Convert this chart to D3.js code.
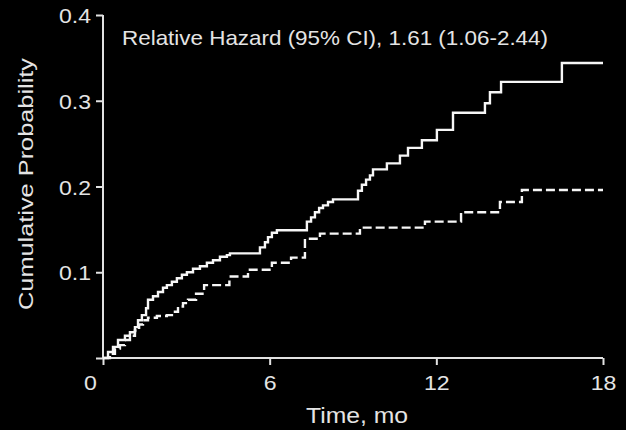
<!DOCTYPE html>
<html>
<head>
<meta charset="utf-8">
<script src="https://cdn.jsdelivr.net/npm/d3@7/dist/d3.min.js"></script>
<style>
  html, body { margin: 0; padding: 0; background: #000; }
  svg { display: block; }
  text { font-family: "Liberation Sans", Arial, Helvetica, sans-serif; fill: #e4e4e4; }
</style>
</head>
<body>
<svg id="chart" width="626" height="430"></svg>
<script>
// Cumulative probability over follow-up, two groups (step functions)
const solidTimes = [0, 0.18, 0.36, 0.54, 0.79, 0.97, 1.15, 1.26, 1.40, 1.55, 1.62, 1.80, 1.98, 2.16, 2.30, 2.48, 2.66, 2.84, 3.02, 3.24, 3.49, 3.74, 3.96, 4.21, 4.46, 4.57, 5.65, 5.83, 5.94, 6.08, 6.26, 7.34, 7.49, 7.63, 7.78, 7.92, 8.10, 8.28, 9.18, 9.32, 9.47, 9.61, 9.72, 10.22, 10.69, 10.98, 11.48, 12.02, 12.60, 13.75, 13.93, 14.33, 16.52, 18];
const solidValues = [0, 0.007, 0.013, 0.021, 0.026, 0.030, 0.036, 0.044, 0.050, 0.058, 0.068, 0.072, 0.077, 0.082, 0.085, 0.089, 0.093, 0.097, 0.100, 0.104, 0.107, 0.111, 0.114, 0.118, 0.120, 0.122, 0.129, 0.135, 0.141, 0.146, 0.149, 0.159, 0.164, 0.170, 0.175, 0.178, 0.182, 0.185, 0.195, 0.202, 0.208, 0.213, 0.220, 0.227, 0.236, 0.245, 0.254, 0.266, 0.286, 0.297, 0.310, 0.322, 0.344, 0.344];

const dashedTimes = [0, 0.25, 0.43, 0.61, 0.79, 0.97, 1.15, 1.30, 1.44, 1.62, 1.94, 2.30, 2.59, 2.70, 2.88, 3.06, 3.35, 3.64, 4.55, 5.22, 6.08, 6.77, 7.27, 7.81, 9.25, 11.59, 12.89, 14.29, 15.08, 18];
const dashedValues = [0, 0.005, 0.011, 0.015, 0.021, 0.026, 0.032, 0.039, 0.044, 0.047, 0.049, 0.050, 0.054, 0.060, 0.064, 0.068, 0.075, 0.085, 0.095, 0.103, 0.111, 0.117, 0.139, 0.145, 0.152, 0.159, 0.170, 0.182, 0.196, 0.196];

const xTicks = [0, 6, 12, 18];
const xTickLabels = ["0", "6", "12", "18"];
const yTicks = [0, 0.1, 0.2, 0.3, 0.4];
const yTickLabels = ["", "0.1", "0.2", "0.3", "0.4"];

const xTitle = "Time, mo";
const yTitle = "Cumulative Probability";
const note = "Relative Hazard (95% CI), 1.61 (1.06-2.44)";

const svg = d3.select("#chart");
const W = 626, H = 430;
svg.append("rect").attr("width", W).attr("height", H).attr("fill", "#000");

const x = d3.scaleLinear().domain([0, 18]).range([103, 603]);
const y = d3.scaleLinear().domain([0, 0.4]).range([358, 15]);

const axisColor = "#e2e2e2";
const lineColor = "#f6f6f6";
const fontSize = 21;

// y axis
const yAxis = svg.append("g")
  .attr("transform", `translate(${x(0)},0)`)
  .call(d3.axisLeft(y).tickValues(yTicks).tickSize(7).tickPadding(5)
    .tickFormat((d, i) => yTickLabels[i]));
yAxis.select(".domain").attr("stroke", axisColor).attr("stroke-width", 2)
  .attr("d", `M0,${y(0)}V${y(0.4)}`);
yAxis.selectAll(".tick line").attr("stroke", axisColor).attr("stroke-width", 2);
yAxis.selectAll(".tick text")
  .attr("font-size", fontSize).attr("font-family", null).attr("fill", "#e4e4e4")
  .attr("x", -12).attr("dy", "0.36em")
  .attr("textLength", 32).attr("lengthAdjust", "spacingAndGlyphs");

// x axis
const xAxis = svg.append("g")
  .attr("transform", `translate(0,${y(0)})`)
  .call(d3.axisBottom(x).tickValues(xTicks).tickSize(7).tickPadding(10)
    .tickFormat((d, i) => xTickLabels[i]));
xAxis.select(".domain").attr("stroke", axisColor).attr("stroke-width", 2)
  .attr("d", `M${x(0)},0H${x(18)}`);
xAxis.selectAll(".tick line").attr("stroke", axisColor).attr("stroke-width", 2);
xAxis.selectAll(".tick text")
  .attr("font-size", fontSize).attr("font-family", null).attr("fill", "#e4e4e4")
  .attr("x", d => d === 0 ? -13 : 0)
  .attr("transform", "scale(1.1,1)");
// keep scaled labels centred on their ticks
xAxis.selectAll(".tick text").attr("x", d => (d === 0 ? -13 : 0) / 1.1);

// step curves
const line = d3.line()
  .x(d => x(d[0]))
  .y(d => y(d[1]))
  .curve(d3.curveStepAfter);

const solidData = solidTimes.map((t, i) => [t, solidValues[i]]);
const dashedData = dashedTimes.map((t, i) => [t, dashedValues[i]]);

svg.append("path")
  .datum(dashedData)
  .attr("d", line)
  .attr("fill", "none")
  .attr("stroke", lineColor)
  .attr("stroke-width", 2.4)
  .attr("stroke-dasharray", "9,4");

svg.append("path")
  .datum(solidData)
  .attr("d", line)
  .attr("fill", "none")
  .attr("stroke", lineColor)
  .attr("stroke-width", 2.4);

// titles
svg.append("text")
  .attr("x", 357).attr("y", 423)
  .attr("text-anchor", "middle")
  .attr("font-size", 22)
  .attr("textLength", 102).attr("lengthAdjust", "spacingAndGlyphs")
  .text(xTitle);

svg.append("text")
  .attr("transform", `translate(33,184) rotate(-90)`)
  .attr("text-anchor", "middle")
  .attr("font-size", 21)
  .attr("textLength", 252).attr("lengthAdjust", "spacingAndGlyphs")
  .text(yTitle);

svg.append("text")
  .attr("x", 122).attr("y", 45)
  .attr("font-size", 21)
  .attr("textLength", 426).attr("lengthAdjust", "spacingAndGlyphs")
  .text(note);
</script>
</body>
</html>
